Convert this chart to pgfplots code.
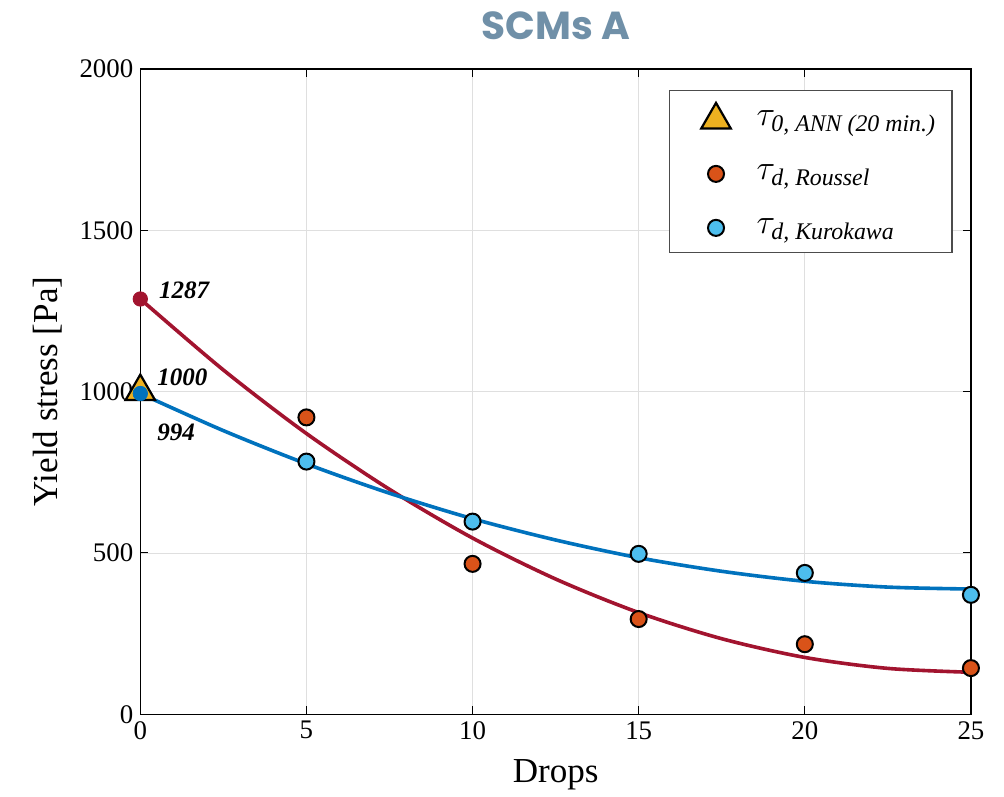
\documentclass[border=0pt]{standalone}
\usepackage{amsmath}
\usepackage{pgfplots}
\pgfplotsset{compat=1.18}
\usepackage{fontspec}
\setmainfont{Liberation Serif}
\newfontfamily\titlefont{Poppins}
\definecolor{mred}{HTML}{A2142F}
\definecolor{mblue}{HTML}{0072BD}
\definecolor{morange}{HTML}{D95319}
\definecolor{mlblue}{HTML}{4DBEEE}
\definecolor{myellow}{HTML}{EDB120}
\definecolor{ttl}{HTML}{7090A8}
\begin{document}
\begin{tikzpicture}
\begin{axis}[
  scale only axis,
  width=414.5pt, height=322pt,
  xmin=0, xmax=25, ymin=0, ymax=2000,
  xtick={0,5,10,15,20,25},
  ytick={0,500,1000,1500,2000},
  grid=major,
  major grid style={gray!25, line width=0.4pt},
  tick align=inside,
  major tick length=4pt,
  tick style={black, line width=0.5pt},
  axis line style={line width=0.6pt},
  ticklabel style={font=\fontsize{13.4}{15}\selectfont},
  /pgf/number format/assume math mode=true,
  /pgf/number format/1000 sep={},
  xlabel={Drops},
  ylabel={Yield stress [Pa]},
  label style={font=\fontsize{17.5}{19}\selectfont},
  xlabel style={yshift=-3pt},
  ylabel style={yshift=2pt},
  title={\titlefont\bfseries\color{ttl}SCMs A},
  title style={font=\fontsize{19.5}{21}\selectfont, yshift=5pt},
  clip=false,
  legend style={at={(0.978,0.967)}, anchor=north east, draw=black!70, line width=0.6pt,
    font=\fontsize{17}{19}\selectfont, inner xsep=6pt, inner ysep=6pt,
    row sep=14pt, legend cell align=left},
  legend image code/.code={\path (0,0) (35pt,0); \draw[#1] plot coordinates {(17pt,0pt)};},
]
% fitted curves
\addplot[mred, line width=1.8pt, smooth, forget plot] coordinates {
(0,1287) (2.5,1067) (5,870) (7.5,697) (10,546) (12.5,419) (15,315) (17.5,234) (20,176) (22.5,142) (25,130)};
\addplot[mblue, line width=1.8pt, smooth, forget plot] coordinates {
(0,994) (2.5,879) (5,776) (7.5,685) (10,606) (12.5,540) (15,485) (17.5,443) (20,412) (22.5,394) (25,388)};
% ANN triangle
\addplot[only marks, mark=triangle*, mark size=8.5pt, mark options={fill=myellow, draw=black, line width=1.1pt}] coordinates {(0,1000)};
\addlegendentry{$\tau_{\textit{0, ANN (20 min.)}}$}
\addplot[only marks, mark=*, mark size=4pt, mark options={fill=morange, draw=black, line width=1pt}] coordinates {
(5,920) (10,466) (15,295) (20,217) (25,143)};
\addlegendentry{$\tau_{\textit{d, Roussel}}$}
\addplot[only marks, mark=*, mark size=4pt, mark options={fill=mlblue, draw=black, line width=1pt}] coordinates {
(5,783) (10,597) (15,497) (20,438) (25,370)};
\addlegendentry{$\tau_{\textit{d, Kurokawa}}$}
% start points
\addplot[only marks, mark=*, mark size=3.6pt, mark options={fill=mred, draw=mred}, forget plot] coordinates {(0,1287)};
\addplot[only marks, mark=*, mark size=3.6pt, mark options={fill=mblue, draw=mblue}, forget plot] coordinates {(0,994)};
\node[anchor=west, font=\fontsize{12.5}{14}\selectfont\bfseries\itshape] at (axis cs:0.35,1314) {1287};
\node[anchor=west, font=\fontsize{12.5}{14}\selectfont\bfseries\itshape] at (axis cs:0.3,1044) {1000};
\node[anchor=west, font=\fontsize{12.5}{14}\selectfont\bfseries\itshape] at (axis cs:0.3,873) {994};
\path (rel axis cs:1,0) ++(16.5pt,0pt);
\end{axis}
\path (current bounding box.west) ++(-13pt,0pt);
\path (current bounding box.north) ++(0pt,2.5pt);
\end{tikzpicture}
\end{document}
